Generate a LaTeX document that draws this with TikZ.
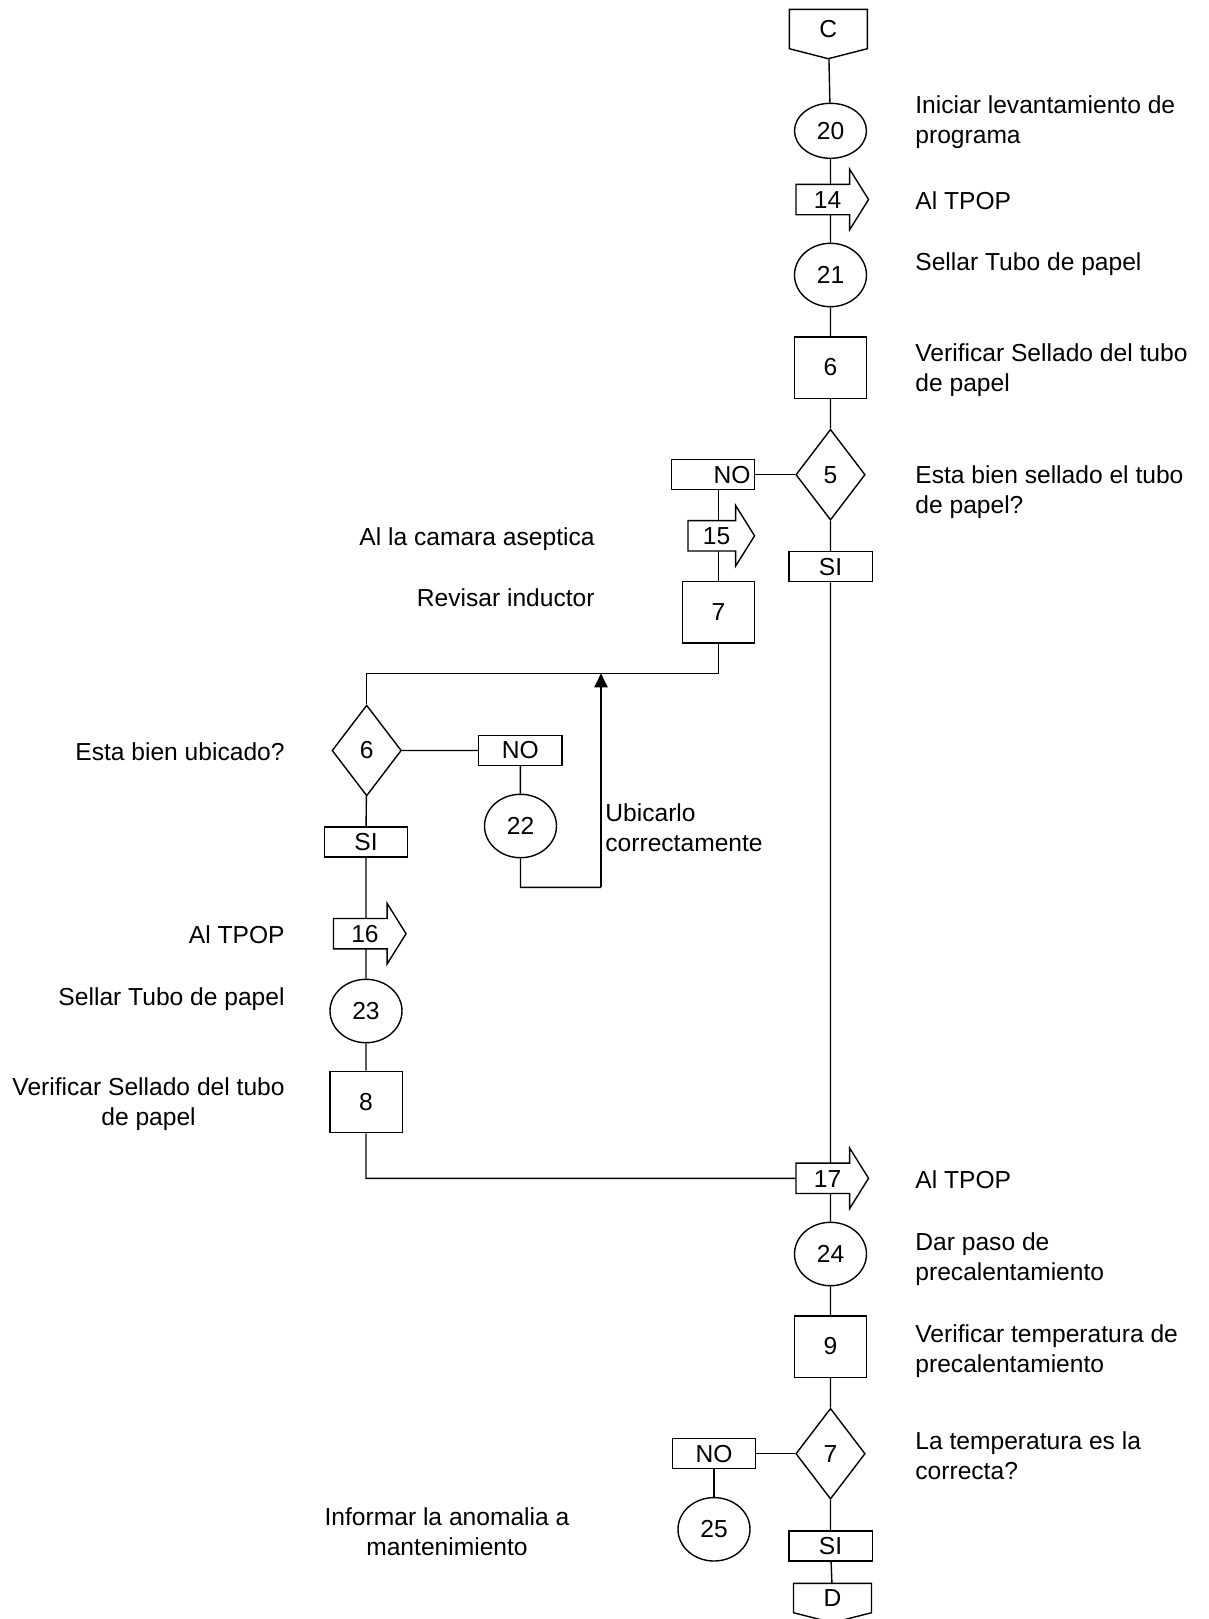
\documentclass[tikz,border=0pt]{standalone}
\usepackage{fontspec}
\setmainfont{Liberation Sans}
\usetikzlibrary{shapes.geometric,shapes.arrows,arrows.meta,backgrounds}

\tikzset{
  oper/.style={ellipse, draw, fill=white, minimum width=36pt, minimum height=31.7pt, inner sep=0pt},
  insp/.style={rectangle, draw, fill=white, minimum width=36.2pt, minimum height=30.7pt, inner sep=0pt},
  decis/.style={diamond, draw, fill=white, minimum width=34.7pt, minimum height=45.4pt, inner sep=0pt},
  transp/.style={single arrow, draw, fill=white, minimum height=36.3pt, minimum width=29.5pt,
    single arrow head extend=7.5pt, single arrow tip angle=116, text height=9pt, text depth=0pt,
    inner xsep=1pt, inner ysep=2.75pt},
  tagbox/.style={rectangle, draw, fill=white, minimum width=41.7pt, minimum height=15pt, inner sep=0pt},
  offpage/.style={rectangle, minimum width=38.3pt, minimum height=19pt, inner sep=0pt},
  note/.style={inner sep=0pt},
  link/.style={line width=0.7pt},
  back/.style={line width=1pt, -{Triangle[length=7pt,width=6.5pt]}},
}

\begin{document}
\begin{tikzpicture}[x=0.5pt, y=-0.5pt, line width=0.7pt, font=\fontsize{12.3}{15}\selectfont]
\useasboundingbox (0,0) rectangle (1209,1619);
% main column
\node[offpage] (c) at (828.3,29) {};
\node[oper, minimum height=27.5pt] (o20) at (830.5,130.8) {20};
\node[transp] (t14) at (827.5,199.5) {14};
\node[oper] (o21) at (830.5,275) {21};
\node[insp] (i6) at (830.5,367.5) {6};
\node[decis] (d5) at (830.5,474.7) {5};
\node[tagbox, text width=37.5pt, align=right] (no1) at (713,474.7) {NO};
\node[tagbox] (si1) at (830.5,566.7) {SI};
% branch through inductor
\node[transp, minimum height=33.3pt] (t15) at (716.5,535.8) {15};
\node[insp] (i7) at (718.5,612.2) {7};
\coordinate (join) at (601,673.3);
\node[decis] (d6) at (366.7,750.5) {6};
\node[tagbox] (no2) at (520.3,750.5) {NO};
\node[oper] (o22) at (520.5,826) {22};
\coordinate (turn) at (601,887.3);
\node[tagbox] (si2) at (366,842) {SI};
\node[transp] (t16) at (365,933.7) {16};
\node[oper] (o23) at (366,1011) {23};
\node[insp] (i8) at (366,1102) {8};
% back on main column
\node[transp] (t17) at (827.5,1178.3) {17};
\node[oper] (o24) at (830.5,1254) {24};
\node[insp] (i9) at (830.5,1346.5) {9};
\node[decis] (d7) at (830.5,1453.7) {7};
\node[tagbox] (no3) at (714,1453.7) {NO};
\node[oper] (o25) at (714,1529.3) {25};
\node[tagbox] (si3) at (830.5,1545.8) {SI};
\node[offpage, minimum height=14pt] (d) at (832.5,1598) {};
% off-page connectors
\filldraw[fill=white] (c.south west) -- (c.north west) -- (c.north east) -- (c.south east) -- ([yshift=-5pt]c.south) -- cycle;
\node at (c) {C};
\filldraw[fill=white] (d.south west) -- (d.north west) -- (d.north east) -- (d.south east) -- ([yshift=-5pt]d.south) -- cycle;
\node at (d) {D};
\begin{pgfonlayer}{background}
\draw[link] (c) -- (o20) -- (o21 |- t14) -- (o21) -- (i6) -- (d5) -- (si1) -- (si1 |- t17) -- (o24) -- (i9) -- (d7) -- (si3) -- (d);
\draw[link] (d5) -- (no1);
\draw[link] (no1.south -| i7) -- (t15 -| i7) -- (i7);
\draw[link] (i7) |- (join) -| (d6);
\draw[link] (d6) -- (no2) -- (o22) |- (turn);
\draw[link] (d6) -- (si2) -- (si2 |- t16) -- (o23) -- (i8) |- (t17);
\draw[link] (d7) -- (no3) -- (o25);
\end{pgfonlayer}
\draw[back] (turn) -- (join);
% right hand notes
\node[note, anchor=base west, align=left] (r20) at (915,143.3) {Iniciar levantamiento de\\programa};
\node[note, anchor=base west] (r14) at (915,209.3) {Al TPOP};
\node[note, anchor=base west] (r21) at (915,270.7) {Sellar Tubo de papel};
\node[note, anchor=base west, align=left] (r6) at (915,391.7) {Verificar Sellado del tubo\\de papel};
\node[note, anchor=base west, align=left] (r5) at (915,513.3) {Esta bien sellado el tubo\\de papel?};
\node[note, anchor=base west] (r17) at (915,1188.9) {Al TPOP};
\node[note, anchor=base west, align=left] (r24) at (915,1280.8) {Dar paso de\\precalentamiento};
\node[note, anchor=base west, align=left] (r9) at (915,1372.7) {Verificar temperatura de\\precalentamiento};
\node[note, anchor=base west, align=left] (r7) at (915,1479) {La temperatura es la\\correcta?};
% left hand notes
\node[note, anchor=base east] (l15) at (595,545) {Al la camara aseptica};
\node[note, anchor=base east] (l7) at (595,606.7) {Revisar inductor};
\node[note, anchor=base east] (l6) at (285,760) {Esta bien ubicado?};
\node[note, anchor=base east] (l16) at (285,943.3) {Al TPOP};
\node[note, anchor=base east] (l23) at (285,1005) {Sellar Tubo de papel};
\node[note, anchor=base east, align=center] (l8) at (285,1125) {Verificar Sellado del tubo\\de papel};
\node[note, anchor=base, align=center] (l25) at (447,1555) {Informar la anomalia a\\mantenimiento};
\node[note, anchor=base west, align=left] (u22) at (605,851.7) {Ubicarlo\\correctamente};
\end{tikzpicture}
\end{document}
